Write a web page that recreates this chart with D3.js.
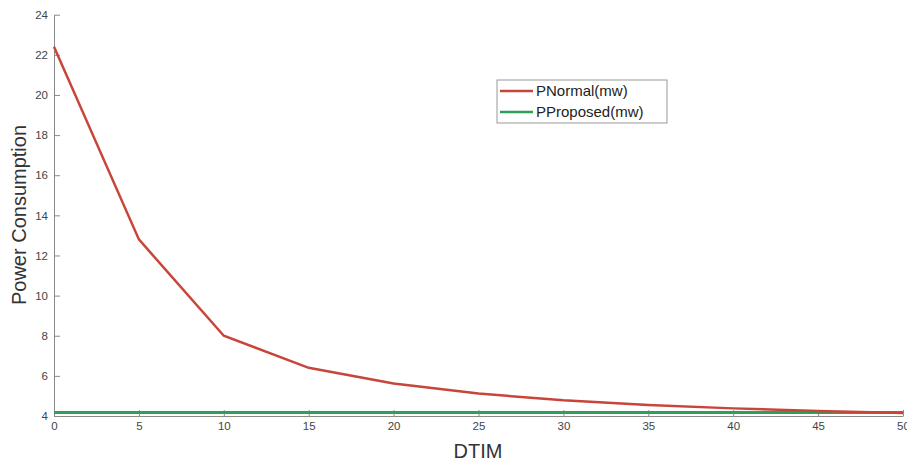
<!DOCTYPE html>
<html><head><meta charset="utf-8">
<script src="https://cdn.jsdelivr.net/npm/d3@7"></script>
<style>body{margin:0;background:#fff;font-family:"Liberation Sans",Arial,sans-serif;}</style>
</head><body><svg id="c" width="907" height="461"></svg>
<script>
const dtim = [0,5,10,15,20,25,30,35,40,45,50];
const pNormal = [22.4,12.8,8.0,6.4,5.62,5.12,4.78,4.55,4.38,4.25,4.15];
const pProposed = [4.17,4.17,4.17,4.17,4.17,4.17,4.17,4.17,4.17,4.17,4.17];
const xTicks = [0,5,10,15,20,25,30,35,40,45,50];
const yTicks = [4,6,8,10,12,14,16,18,20,22,24];
const seriesNames = ["PNormal(mw)","PProposed(mw)"];
const colors = ["#c8453a","#2e9e5a"];

const svg = d3.select("#c");
const x = d3.scaleLinear().domain([0,50]).range([54,903]);
const y = d3.scaleLinear().domain([4,24]).range([416,14.7]);

const gx = svg.append("g").attr("transform","translate(0,416)")
  .call(d3.axisBottom(x).tickValues(xTicks).tickSizeInner(-6).tickSizeOuter(0).tickPadding(6));
const gy = svg.append("g").attr("transform","translate(54,0)")
  .call(d3.axisLeft(y).tickValues(yTicks).tickSizeInner(-6).tickSizeOuter(0).tickPadding(6));
[gx,gy].forEach(g=>{
  g.selectAll("path,line").attr("stroke","#8a8a8a");
  g.selectAll("text").attr("fill","#444").style("font-size","11.5px").style("font-family","Liberation Sans, Arial, sans-serif");
});
gy.selectAll(".tick line").attr("x1",0).attr("x2",6);

const line = d3.line().x((d,i)=>x(dtim[i])).y(d=>y(d));
svg.append("path").datum(pProposed).attr("d",line).attr("fill","none").attr("stroke",colors[1]).attr("stroke-width",3);
svg.append("path").datum(pNormal).attr("d",line).attr("fill","none").attr("stroke",colors[0]).attr("stroke-width",2.5);

svg.append("text").attr("x",478).attr("y",458).attr("text-anchor","middle")
  .style("font-size","20px").attr("fill","#333").text("DTIM");
svg.append("text").attr("transform","translate(26,215) rotate(-90)").attr("text-anchor","middle")
  .style("font-size","20px").attr("fill","#333").text("Power Consumption");

const lg = svg.append("g");
lg.append("rect").attr("x",497).attr("y",80).attr("width",170).attr("height",43)
  .attr("fill","#fff").attr("stroke","#999").attr("stroke-width",1);
seriesNames.forEach((n,i)=>{
  const yy = 91 + i*21;
  lg.append("line").attr("x1",500).attr("x2",533).attr("y1",yy).attr("y2",yy)
    .attr("stroke",colors[i]).attr("stroke-width",2.5);
  lg.append("text").attr("x",536).attr("y",yy+5).style("font-size","15px").attr("fill","#222").text(n);
});
</script></body></html>
